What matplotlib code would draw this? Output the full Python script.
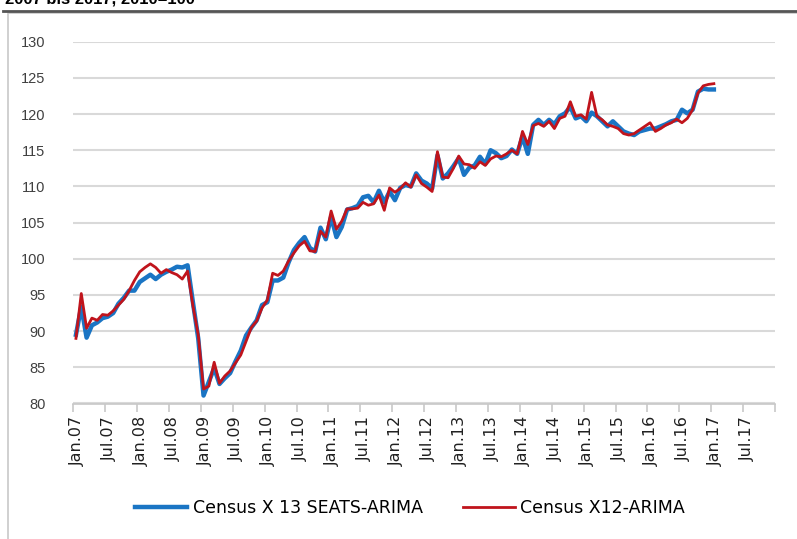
import numpy as np
import matplotlib
matplotlib.use("Agg")
from matplotlib import pyplot as plt
from matplotlib.lines import Line2D
from matplotlib.patches import Rectangle
import matplotlib.transforms as mtransforms

# monthly values Jan.07 .. Jan.17
x13_seats = [
    89.5, 93.4, 89.1, 90.8, 91.2, 91.8, 92.0, 92.5, 93.8, 94.6, 95.6, 95.6,
    96.8, 97.3, 97.8, 97.2, 97.8, 98.2, 98.5, 98.9, 98.8, 99.1, 94.0, 89.0,
    81.1, 83.0, 84.9, 82.7, 83.5, 84.2, 85.8, 87.3, 89.4, 90.5, 91.5, 93.6,
    94.0, 97.0, 97.0, 97.4, 99.5, 101.2, 102.2, 103.0, 101.5, 101.0, 104.3, 102.7,
    105.8, 103.0, 104.4, 106.8, 107.0, 107.3, 108.5, 108.7, 107.8, 109.4, 107.8, 109.3,
    108.1, 109.8, 110.2, 110.0, 111.8, 110.8, 110.4, 109.7, 114.3, 111.1, 111.8, 112.8,
    113.9, 111.6, 112.6, 112.9, 114.1, 113.1, 115.0, 114.6, 113.9, 114.2, 115.1, 114.5,
    116.9, 114.5, 118.5, 119.2, 118.5, 119.2, 118.6, 119.7, 120.1, 121.0, 119.4, 119.7,
    119.0, 120.2, 119.7, 119.0, 118.3, 119.0, 118.3, 117.6, 117.3, 117.1, 117.6, 117.8,
    118.0, 118.0, 118.3, 118.6, 119.0, 119.2, 120.6, 120.1, 120.6, 123.1, 123.5, 123.4,
    123.4,
]
x12_arima = [
    89.0, 95.2, 90.4, 91.8, 91.5, 92.3, 92.2, 92.8, 93.6, 94.4, 95.6, 97.0,
    98.2, 98.8, 99.3, 98.8, 98.0, 98.5, 98.1, 97.8, 97.2, 98.3, 93.5, 89.5,
    82.0, 82.4, 85.7, 82.8, 83.8, 84.5, 85.6, 86.7, 88.6, 90.5, 91.4, 93.2,
    94.3, 98.0, 97.7, 98.3, 99.7, 100.8, 101.8, 102.4, 101.1, 101.0, 103.8, 103.0,
    106.6, 104.1, 105.2, 106.9, 106.9, 107.0, 107.8, 107.4, 107.6, 108.8, 106.7, 109.8,
    109.2, 109.7, 110.5, 109.9, 111.6, 110.4, 109.9, 109.3, 114.8, 111.3, 111.2, 112.5,
    114.2, 113.1, 113.0, 112.5, 113.4, 112.9, 113.8, 114.2, 114.1, 114.5, 115.0, 114.5,
    117.6, 115.8, 118.4, 118.7, 118.3, 119.0, 118.0, 119.4, 119.7, 121.7, 119.7, 119.9,
    119.3, 123.0, 119.7, 119.2, 118.5, 118.3, 118.0, 117.3, 117.1, 117.3, 117.8, 118.3,
    118.8, 117.6, 118.0, 118.5, 118.8, 119.3, 118.8, 119.4, 120.6, 122.9, 123.9, 124.1,
    124.2,
]
tick_labels = []
for yy in range(7, 18):
    tick_labels += ["Jan.%02d" % yy, "Jul.%02d" % yy]
yticks = [80, 85, 90, 95, 100, 105, 110, 115, 120, 125, 130]

blue = "#1a75c4"
red = "#c0141c"
grid = "#d9d9d9"
narrow = ["Liberation Sans Narrow", "DejaVu Sans"]

fig = plt.figure(figsize=(7.97, 5.39), dpi=100)

# surrounding frame and cropped header
fig.patches.append(Rectangle((8 / 797, -0.1), 1.2, 1 - 13 / 539 + 0.1, transform=fig.transFigure,
                             fill=False, edgecolor="#c8c8c8", linewidth=1.2))
fig.add_artist(Line2D([3 / 797, 1], [1 - 11 / 539] * 2, transform=fig.transFigure,
                      color="#555555", linewidth=2))
fig.text(5 / 797, 1 - 4 / 539, "2007 bis 2017, 2010=100", fontsize=12, fontweight="bold",
         va="baseline", ha="left", family="Liberation Sans")

ax = fig.add_axes([73.3 / 797, 1 - 403.5 / 539, (775 - 73.3) / 797, (403.5 - 41.7) / 539])

months = np.arange(len(x13_seats)) + 0.5
ax.plot(months, x13_seats, color=blue, linewidth=3.2, solid_joinstyle="round",
        label="Census X 13 SEATS-ARIMA")
ax.plot(months, x12_arima, color=red, linewidth=2.0, solid_joinstyle="round",
        label="Census X12-ARIMA")

ax.set_xlim(0, 132)
ax.set_ylim(80, 130)
ax.set_yticks(yticks)
ax.set_yticklabels([str(v) for v in yticks], family="Liberation Sans", fontsize=10.5,
                   color="#404040")
ax.yaxis.grid(True, color=grid, linewidth=1.5)
ax.set_axisbelow(True)
ax.tick_params(axis="y", length=0, pad=20)

ax.set_xticks(np.arange(0, 133, 6))
ax.set_xticklabels(tick_labels + [""], rotation=90, family=narrow, fontsize=11.5,
                   color="#202020")
ax.tick_params(axis="x", length=6, color="#c8c8c8", width=1.2, pad=3)
offset = mtransforms.ScaledTranslation(4 / 100, 0, fig.dpi_scale_trans)
for lab in ax.get_xticklabels():
    lab.set_transform(lab.get_transform() + offset)

for side in ["top", "right", "left"]:
    ax.spines[side].set_visible(False)
ax.spines["bottom"].set_color("#c8c8c8")
ax.spines["bottom"].set_linewidth(1.2)

fig.legend(loc="center", bbox_to_anchor=(410 / 797, 1 - 508 / 539), ncol=2, frameon=False,
           prop={"family": narrow, "size": 12.5}, handlelength=3.0, handletextpad=0.3,
           columnspacing=2.3)

fig.savefig("out.png", dpi=100)
